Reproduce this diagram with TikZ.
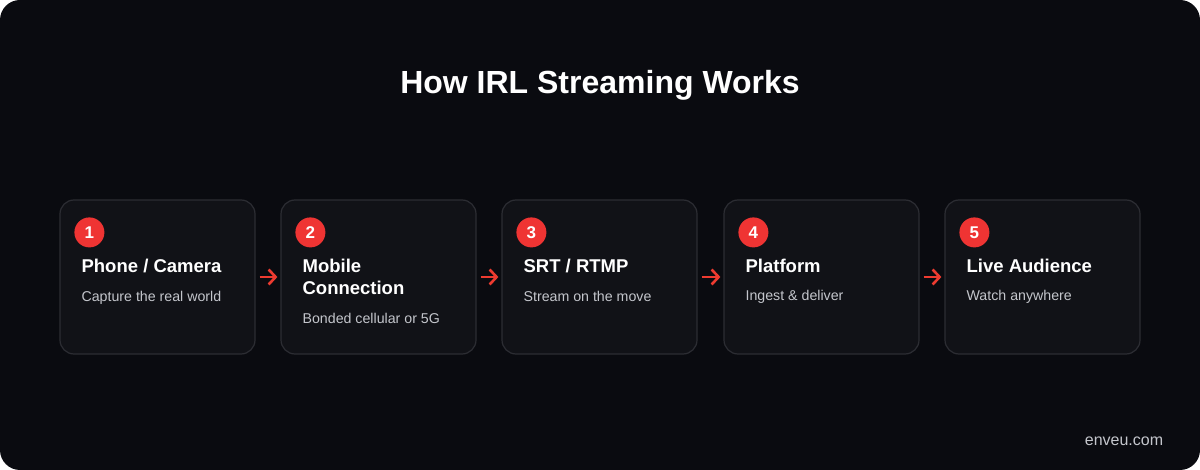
\documentclass[tikz,border=0pt]{standalone}
\usepackage{fontspec}
\setmainfont{Liberation Sans}
\usetikzlibrary{positioning,arrows.meta}
\definecolor{bgdark}{HTML}{0A0B10}
\definecolor{cardfill}{HTML}{111217}
\definecolor{cardline}{HTML}{2C2D33}
\definecolor{stepred}{HTML}{EF3433}
\definecolor{arrowred}{HTML}{EE3B30}
\definecolor{descgray}{HTML}{C4C6CC}
\tikzset{
  card/.style={draw=cardline,line width=1.2pt,fill=cardfill,rounded corners=14pt,
    minimum width=195pt,minimum height=154pt,inner sep=0pt},
  badge/.style={circle,minimum size=30pt,inner sep=0pt,fill=stepred,
    text=white,font=\fontsize{17}{17}\selectfont\bfseries},
  steptitle/.style={anchor=north west,text=white,align=left,inner sep=0pt,
    font=\fontsize{18.5}{22.5}\selectfont\bfseries},
  stepdesc/.style={anchor=north west,text=descgray,inner sep=0pt,font=\fontsize{14.2}{17}\selectfont},
  flow/.style={arrowred,line width=2.6pt,-{Straight Barb[length=7pt,width=15pt]}}
}
\begin{document}
\begin{tikzpicture}[x=1pt,y=-1pt]
  % background
  \useasboundingbox (0,0) rectangle (1200,470);
  \fill[bgdark,rounded corners=20pt] (0,0) rectangle (1200,470);
  \node[text=white,font=\fontsize{32}{36}\selectfont\bfseries] (title) at (600,85) {How IRL Streaming Works};

  % cards
  \foreach \i/\x/\ttl/\dsc in {1/157.5/{Phone / Camera}/{Capture the real world},
      2/378.5/{Mobile\\Connection}/{Bonded cellular or 5G},
      3/599.5/{SRT / RTMP}/{Stream on the move},
      4/821.5/{Platform}/{Ingest \& deliver},
      5/1042.5/{Live Audience}/{Watch anywhere}} {
    \node[card] (card\i) at (\x,277) {};
    \node[badge] (badge\i) at ([xshift=30pt,yshift=-33pt]card\i.north west) {\i};
    \node[steptitle] (title\i) at ([xshift=22pt,yshift=-59pt]card\i.north west) {\ttl};
    \node[stepdesc,below=18pt of title\i.south west,anchor=north west] (desc\i) {\dsc};
  }

  % arrows
  \foreach \a/\b in {1/2,2/3,3/4,4/5}
    \draw[flow] ([xshift=4pt]card\a.east) -- ([xshift=-3pt]card\b.west);

  \node[text=descgray,font=\fontsize{16}{18}\selectfont] (site) at (1124,441) {enveu.com};
\end{tikzpicture}
\end{document}
